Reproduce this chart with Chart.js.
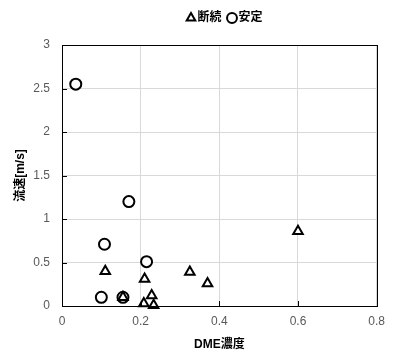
<!DOCTYPE html>
<html>
<head>
<meta charset="utf-8">
<script src="https://cdn.jsdelivr.net/npm/chart.js@4"></script>
<style>
  body { margin: 0; background: #fff; }
  #wrap { width: 393px; height: 352px; }
</style>
</head>
<body>
<div id="wrap"><canvas id="myChart" width="393" height="352"></canvas></div>
<script>
// Data Block
const intermittentX = [0.11, 0.21, 0.325, 0.37, 0.6, 0.155, 0.228, 0.208, 0.233];
const intermittentY = [0.4, 0.31, 0.39, 0.26, 0.86, 0.1, 0.12, 0.03, 0.01];
const stableX = [0.035, 0.17, 0.108, 0.215, 0.1, 0.155];
const stableY = [2.55, 1.2, 0.71, 0.51, 0.1, 0.1];
const seriesNames = ["断続", "安定"];
const xTitle = "DME濃度";
const yTitle = "流速[m/s]";

const FONT = "'Liberation Sans', Arial, 'Noto Sans CJK JP', sans-serif";

const toPoints = (xs, ys) => xs.map((x, i) => ({ x: x, y: ys[i] }));

// Setup Block
const data = {
  datasets: [
    {
      label: seriesNames[0],
      data: toPoints(intermittentX, intermittentY),
      pointStyle: "triangle",
      pointRadius: 5.5,
      pointBorderWidth: 2,
      borderColor: "#000",
      backgroundColor: "#fff",
      clip: false,
    },
    {
      label: seriesNames[1],
      data: toPoints(stableX, stableY),
      pointStyle: "circle",
      pointRadius: 5.5,
      pointBorderWidth: 2,
      borderColor: "#000",
      backgroundColor: "#fff",
      clip: false,
    },
  ],
};

// inward tick marks + frame round the plot
const frame = {
  id: "frame",
  afterLayout(chart) {
    // legend sits a bit right of centre and higher in the original
    const lg = chart.legend;
    lg.left += 28;
    lg.right += 28;
    lg.top -= 11;
    lg.bottom -= 11;
  },
  afterDatasetsDraw(chart) {
    const { ctx, chartArea: a, scales } = chart;
    ctx.save();
    ctx.strokeStyle = "#000";
    ctx.lineWidth = 1;
    ctx.beginPath();
    scales.x.ticks.forEach((t) => {
      const px = Math.round(scales.x.getPixelForValue(t.value)) + 0.5;
      ctx.moveTo(px, a.bottom);
      ctx.lineTo(px, a.bottom - 5);
    });
    scales.y.ticks.forEach((t) => {
      const py = Math.round(scales.y.getPixelForValue(t.value)) + 0.5;
      ctx.moveTo(a.left, py);
      ctx.lineTo(a.left + 5, py);
    });
    ctx.stroke();
    ctx.strokeRect(Math.round(a.left) + 0.5, Math.round(a.top) + 0.5,
      Math.round(a.right - a.left), Math.round(a.bottom - a.top));
    ctx.restore();
  },
};

const plain = (v) => String(Math.round(v * 10) / 10);

// Options Block
const options = {
  responsive: false,
  animation: false,
  layout: { padding: { top: 13, right: 9, left: 13, bottom: 0 } },
  plugins: {
    legend: {
      position: "top",
      labels: {
        usePointStyle: true,
        boxWidth: 1,
        boxHeight: 7,
        padding: 10,
        color: "#000",
        font: { family: FONT, size: 12, weight: "bold" },
      },
    },
    tooltip: { enabled: false },
  },
  scales: {
    x: {
      type: "linear",
      min: 0,
      max: 0.8,
      ticks: { stepSize: 0.2, color: "#595959", padding: 8, callback: plain, font: { family: FONT, size: 12 } },
      grid: { color: "#d9d9d9", drawTicks: false },
      border: { color: "#000" },
      title: { display: true, text: xTitle, color: "#000", padding: { top: 4, bottom: 0 }, font: { family: FONT, size: 12, weight: "bold" } },
      afterFit(scale) { scale.height = 46; },
    },
    y: {
      type: "linear",
      min: 0,
      max: 3,
      ticks: { stepSize: 0.5, color: "#595959", padding: 12, callback: plain, font: { family: FONT, size: 12 } },
      grid: { color: "#d9d9d9", drawTicks: false },
      border: { color: "#000" },
      title: { display: true, text: yTitle, color: "#000", padding: 0, font: { family: FONT, size: 12, weight: "bold" } },
      afterFit(scale) { scale.width = 49; },
    },
  },
};

// Config Block
const config = {
  type: "scatter",
  data,
  options,
  plugins: [frame],
};

// Render Block
const myChart = new Chart(document.getElementById("myChart"), config);
</script>
</body>
</html>
